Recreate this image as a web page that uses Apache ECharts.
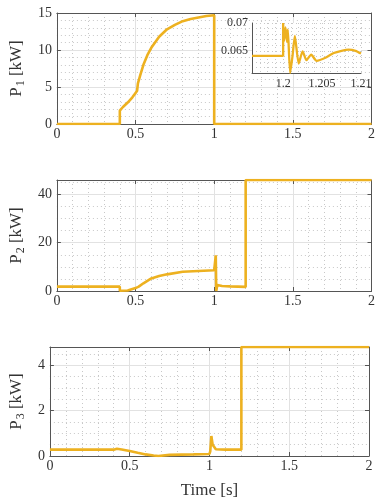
<!DOCTYPE html>
<html>
<head>
<meta charset="utf-8">
<script src="https://cdn.jsdelivr.net/npm/echarts@6/dist/echarts.min.js"></script>
<style>
  html, body { margin: 0; padding: 0; background: #fff; }
  #chart { width: 378px; height: 500px; }
</style>
</head>
<body>
<div id="chart"></div>
<script>
// P1 (kW) over time (s)
const t1 = [0, 0.4, 0.4, 0.42, 0.45, 0.48, 0.5, 0.51, 0.515, 0.53, 0.55, 0.575, 0.6, 0.65, 0.7, 0.75, 0.8, 0.85, 0.9, 0.95, 1.0, 1.0, 2.0];
const p1 = [0, 0, 1.8, 2.3, 2.9, 3.6, 4.2, 4.5, 5.5, 6.6, 8.0, 9.3, 10.3, 11.8, 12.8, 13.4, 13.9, 14.2, 14.4, 14.6, 14.7, 0, 0];

// P2
const t2 = [0, 0.4, 0.4, 0.45, 0.5, 0.52, 0.55, 0.6, 0.65, 0.7, 0.8, 0.9, 1.0, 1.005, 1.01, 1.013, 1.02, 1.05, 1.1, 1.2, 1.2, 2.0];
const p2 = [1.8, 1.8, 0.1, 0.2, 1.2, 1.8, 3.2, 5.2, 6.2, 6.9, 8.0, 8.3, 8.6, 8.6, 14.8, 0, 2.5, 2.1, 1.9, 1.7, 46, 46];

// P3
const t3 = [0, 0.4, 0.42, 0.45, 0.5, 0.55, 0.6, 0.65, 0.68, 0.75, 0.9, 1.0, 1.005, 1.012, 1.02, 1.04, 1.1, 1.2, 1.2, 2.0];
const p3 = [0.28, 0.28, 0.32, 0.29, 0.22, 0.14, 0.07, 0.02, 0.0, 0.05, 0.07, 0.09, 0.2, 0.88, 0.5, 0.3, 0.28, 0.28, 4.8, 4.8];

// inset: zoom of P1 around t = 1.2 s
const tIn = [1.196, 1.2, 1.2, 1.2001, 1.2003, 1.2005, 1.2006, 1.2009, 1.2012, 1.2015, 1.202, 1.2025, 1.203, 1.2036, 1.2043, 1.2055, 1.2065, 1.2075, 1.2084, 1.2093, 1.21];
const pIn = [0.0641, 0.0641, 0.0700, 0.0667, 0.0692, 0.0666, 0.0688, 0.0610, 0.0640, 0.0677, 0.0627, 0.0649, 0.0633, 0.0643, 0.0632, 0.0638, 0.0646, 0.0650, 0.0652, 0.0650, 0.0645];

const serif = 'Liberation Serif';
const ink = '#333';
const frame = '#555';
const lineColor = '#EDB120';

const pairs = (t, v) => t.map((x, i) => [x, v[i]]);

function mainX(gi, extra) {
  return Object.assign({
    type: 'value', gridIndex: gi, min: 0, max: 2, interval: 0.5, position: 'bottom',
    axisLine: { show: true, onZero: false, lineStyle: { color: frame } },
    axisTick: { inside: true, length: 4, lineStyle: { color: frame } },
    axisLabel: { fontFamily: serif, fontSize: 14, color: ink, margin: 3 },
    splitLine: { show: true, lineStyle: { color: '#e2e2e2' } },
    minorTick: { show: false, splitNumber: 5 },
    minorSplitLine: { show: true, lineStyle: { color: '#c8c8c8', type: [1, 3] } }
  }, extra || {});
}

function mirrorX(gi) {
  return {
    type: 'value', gridIndex: gi, min: 0, max: 2, interval: 0.5, position: 'top',
    axisLine: { show: true, onZero: false, lineStyle: { color: frame } },
    axisTick: { inside: true, length: 4, lineStyle: { color: frame } },
    axisLabel: { show: false }, splitLine: { show: false }
  };
}

function mainY(gi, max, interval, minorN, sub, gap, showMax) {
  return {
    type: 'value', gridIndex: gi, min: 0, max: max, interval: interval, position: 'left',
    name: '{p|P}{s|' + sub + '}{p| [kW]}',
    nameLocation: 'middle', nameRotate: 90, nameGap: gap,
    nameTextStyle: {
      fontFamily: serif, color: ink,
      rich: {
        p: { fontFamily: serif, fontSize: 17, color: ink },
        s: { fontFamily: serif, fontSize: 12, color: ink, padding: [9, 0, 0, 1] }
      }
    },
    axisLine: { show: true, onZero: false, lineStyle: { color: frame } },
    axisTick: { inside: true, length: 4, lineStyle: { color: frame } },
    axisLabel: { fontFamily: serif, fontSize: 14, color: ink, margin: 5, showMaxLabel: showMax },
    splitLine: { show: true, lineStyle: { color: '#e2e2e2' } },
    minorTick: { show: false, splitNumber: minorN },
    minorSplitLine: { show: true, lineStyle: { color: '#c8c8c8', type: [1, 3] } }
  };
}

function mirrorY(gi, max, interval) {
  return {
    type: 'value', gridIndex: gi, min: 0, max: max, interval: interval, position: 'right',
    axisLine: { show: true, onZero: false, lineStyle: { color: frame } },
    axisTick: { inside: true, length: 4, lineStyle: { color: frame } },
    axisLabel: { show: false }, splitLine: { show: false }
  };
}

const dotted = { show: true, lineStyle: { color: '#c8c8c8', type: [1, 3] } };

const option = {
  animation: false,
  backgroundColor: '#fff',
  grid: [
    { left: 45, top: 13, width: 327, height: 111 },
    { left: 45, top: 180, width: 327, height: 111 },
    { left: 38, top: 347, width: 331, height: 113 },
    { left: 252, top: 23, width: 109, height: 50, show: true, backgroundColor: '#fff', borderWidth: 0, z: 5 }
  ],
  xAxis: [
    mainX(0),
    mainX(1),
    mainX(2, {
      name: 'Time [s]', nameLocation: 'middle', nameGap: 26,
      nameTextStyle: { fontFamily: serif, fontSize: 17, color: ink }
    }),
    {
      type: 'value', gridIndex: 3, min: 1.196, max: 1.21, interval: 0.001, z: 6,
      axisLine: { show: true, onZero: false, lineStyle: { color: frame } },
      axisTick: { show: false },
      axisLabel: {
        fontFamily: serif, fontSize: 12, color: ink, margin: 5,
        formatter: v => { const r = Math.round(v * 1000); return r % 5 === 0 ? String(r / 1000) : ''; }
      },
      splitLine: dotted
    },
    mirrorX(0), mirrorX(1), mirrorX(2)
  ],
  yAxis: [
    mainY(0, 15, 5, 5, '1', 24, true),
    mainY(1, 46, 20, 4, '2', 24, false),
    mainY(2, 4.8, 2, 4, '3', 19, false),
    {
      type: 'value', gridIndex: 3, min: 0.061, max: 0.07, interval: 0.001, z: 6,
      axisLine: { show: true, onZero: false, lineStyle: { color: frame } },
      axisTick: { show: false },
      axisLabel: {
        fontFamily: serif, fontSize: 12, color: ink, margin: 4,
        formatter: v => { const r = Math.round(v * 1000); return r === 65 ? '0.065' : (r === 70 ? '0.07' : ''); }
      },
      splitLine: dotted
    },
    mirrorY(0, 15, 5), mirrorY(1, 46, 20), mirrorY(2, 4.8, 2)
  ],
  series: [
    { type: 'line', xAxisIndex: 0, yAxisIndex: 0, data: pairs(t1, p1), showSymbol: false, lineStyle: { color: lineColor, width: 2.6 }, itemStyle: { color: lineColor } },
    { type: 'line', xAxisIndex: 1, yAxisIndex: 1, data: pairs(t2, p2), showSymbol: false, lineStyle: { color: lineColor, width: 2.6 }, itemStyle: { color: lineColor } },
    { type: 'line', xAxisIndex: 2, yAxisIndex: 2, data: pairs(t3, p3), showSymbol: false, lineStyle: { color: lineColor, width: 2.6 }, itemStyle: { color: lineColor } },
    { type: 'line', xAxisIndex: 3, yAxisIndex: 3, data: pairs(tIn, pIn), showSymbol: false, z: 10, smooth: 0.2, lineStyle: { color: lineColor, width: 2.3 }, itemStyle: { color: lineColor } }
  ]
};

const chart = echarts.init(document.getElementById('chart'));
chart.setOption(option);
</script>
</body>
</html>
